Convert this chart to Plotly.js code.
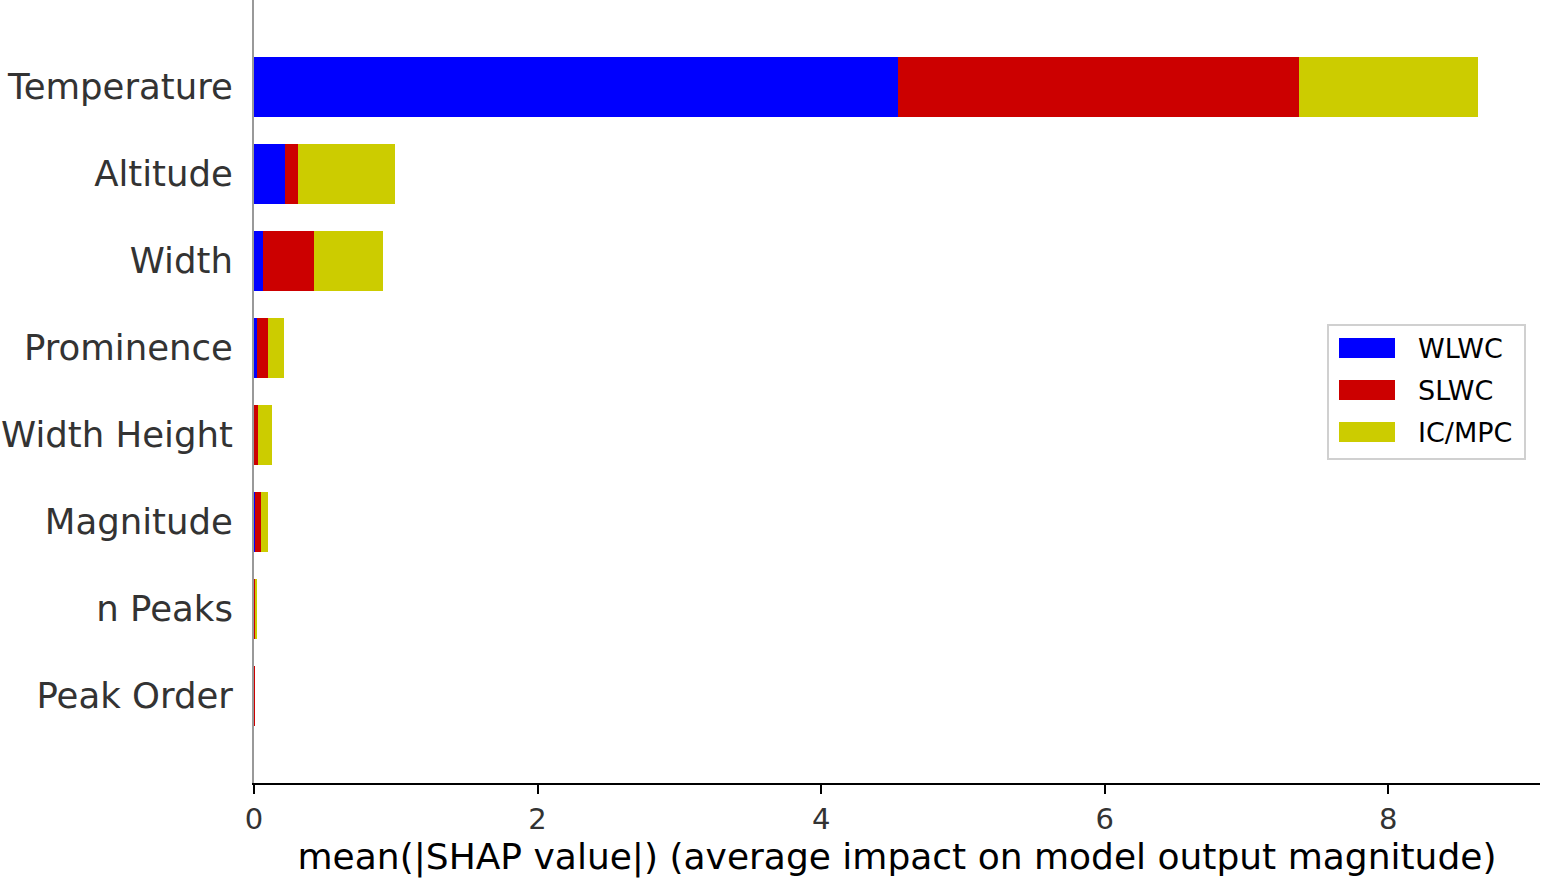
<!DOCTYPE html>
<html>
<head>
<meta charset="utf-8">
<script src="https://cdn.plot.ly/plotly-3.0.1.min.js"></script>
<style>
  html, body { margin: 0; padding: 0; background: #fff; }
  #myDiv { width: 1541px; height: 879px; }
</style>
</head>
<body>
<div id="myDiv"></div>
<script>
  // features, top to bottom as in the plot
  var features = ['Temperature', 'Altitude', 'Width', 'Prominence', 'Width Height', 'Magnitude', 'n Peaks', 'Peak Order'];
  var seriesNames = ['WLWC', 'SLWC', 'IC/MPC'];
  var seriesColors = ['#0000ff', '#cc0000', '#cccc00'];
  var wlwc  = [4.54, 0.22, 0.063, 0.021, 0.003, 0.007, 0.002, 0];
  var slwc  = [2.83, 0.09, 0.36, 0.078, 0.025, 0.042, 0.012, 0.006];
  var icmpc = [1.26, 0.684, 0.487, 0.113, 0.099, 0.05, 0.007, 0];
  var xTicks = [0, 2, 4, 6, 8];

  var W = 1541, H = 879,
      mL = 254, mR = 1, mT = 0, mB = 96;
  var plotW = W - mL - mR, plotH = H - mT - mB;

  // pixel -> paper helpers (used for the hand-made legend box)
  function px(x) { return (x - mL) / plotW; }
  function py(y) { return (H - mB - y) / plotH; }

  var order = features.slice().reverse(); // bottom first for category axis
  var allSeries = [wlwc, slwc, icmpc];

  var data = [];
  for (var s = 0; s < allSeries.length; s++) {
    data.push({
      type: 'bar',
      orientation: 'h',
      y: features,
      x: allSeries[s],
      name: seriesNames[s],
      width: 0.7,
      marker: { color: seriesColors[s], line: { width: 0 } },
      hoverinfo: 'x+y+name'
    });
  }

  var shapes = [];
  var annotations = [];
  // legend frame
  shapes.push({
    type: 'rect', xref: 'paper', yref: 'paper',
    x0: px(1328), x1: px(1525), y0: py(459), y1: py(325),
    line: { color: '#d0d0d0', width: 2 }, fillcolor: 'rgba(255,255,255,0.8)'
  });
  var rowTop = [338, 380, 422];
  for (var k = 0; k < seriesNames.length; k++) {
    shapes.push({
      type: 'rect', xref: 'paper', yref: 'paper',
      x0: px(1339), x1: px(1395), y0: py(rowTop[k] + 20), y1: py(rowTop[k]),
      line: { width: 0 }, fillcolor: seriesColors[k]
    });
    annotations.push({
      xref: 'paper', yref: 'paper',
      x: px(1416), y: py(rowTop[k] + 10),
      xanchor: 'left', yanchor: 'middle',
      text: seriesNames[k], showarrow: false,
      font: { family: 'DejaVu Sans', size: 27, color: '#000' }
    });
  }

  var layout = {
    width: W, height: H,
    margin: { l: mL, r: mR, t: mT, b: mB, pad: 0 },
    paper_bgcolor: '#fff',
    plot_bgcolor: '#fff',
    barmode: 'stack',
    bargap: 0.3,
    showlegend: false,
    font: { family: 'DejaVu Sans', color: '#333' },
    xaxis: {
      range: [0, 9.07],
      tickvals: xTicks,
      ticktext: xTicks.map(String),
      showgrid: false,
      zeroline: false,
      showline: true,
      linecolor: '#000',
      linewidth: 2,
      ticks: 'outside',
      ticklen: 9,
      tickwidth: 2,
      tickcolor: '#000',
      tickfont: { family: 'DejaVu Sans', size: 29, color: '#333' },
      title: {
        text: 'mean(|SHAP value|) (average impact on model output magnitude)',
        font: { family: 'DejaVu Sans', size: 36, color: '#000' },
        standoff: 8
      }
    },
    yaxis: {
      type: 'category',
      categoryorder: 'array',
      categoryarray: order,
      range: [-1, features.length],
      showgrid: false,
      zeroline: false,
      showline: true,
      linecolor: '#999999',
      linewidth: 2,
      ticks: '',
      ticklabelstandoff: 12,
      tickfont: { family: 'DejaVu Sans', size: 35.5, color: '#333' }
    },
    shapes: shapes,
    annotations: annotations
  };

  Plotly.newPlot('myDiv', data, layout, { displayModeBar: false });
</script>
</body>
</html>
